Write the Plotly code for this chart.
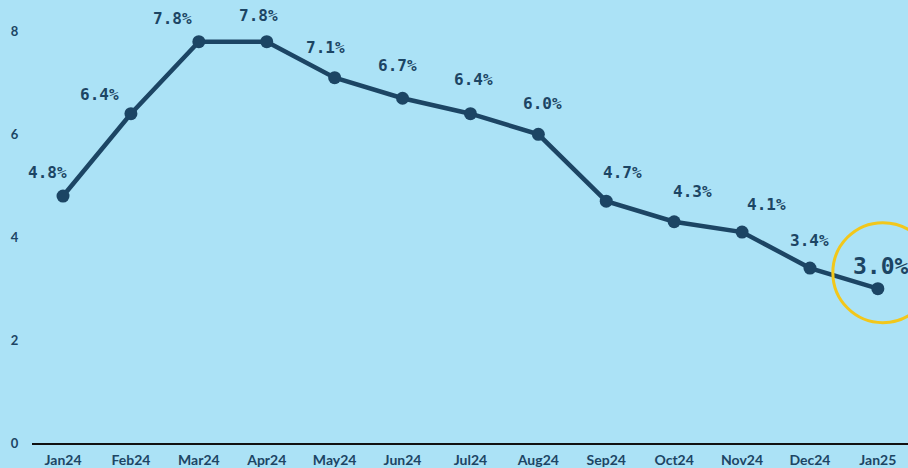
import plotly.graph_objects as go

months = ["Jan24", "Feb24", "Mar24", "Apr24", "May24", "Jun24", "Jul24",
          "Aug24", "Sep24", "Oct24", "Nov24", "Dec24", "Jan25"]
rates = [4.8, 6.4, 7.8, 7.8, 7.1, 6.7, 6.4, 6.0, 4.7, 4.3, 4.1, 3.4, 3.0]
y_ticks = [0, 2, 4, 6, 8]

# label offsets in pixels (styling only)
label_dx = [-16, -31, -26, -8, -9, -5, 3, 4, 16, 18, 24, 0, 3]
label_dy = [24, 19, 23, 26, 30, 33, 34, 31, 29, 30, 28, 28, 23]

NAVY = "#1C4564"
BG = "#ABE2F6"

fig = go.Figure()
fig.add_trace(go.Scatter(
    x=list(range(len(months))), y=rates, mode="lines+markers",
    line=dict(color=NAVY, width=4.5),
    marker=dict(color=NAVY, size=13),
    hoverinfo="skip", showlegend=False,
))

for i, (m, v) in enumerate(zip(months, rates)):
    last = i == len(months) - 1
    fig.add_annotation(
        x=i, y=v, text=f"{v:.1f}%", showarrow=False,
        xshift=label_dx[i], yshift=label_dy[i],
        font=dict(family="DejaVu Sans Mono", size=23 if last else 16,
                  color=NAVY, weight="bold"),
    )

# highlight circle around last point
fig.add_shape(
    type="circle", xref="x", yref="y",
    xsizemode="pixel", ysizemode="pixel",
    xanchor=len(months) - 1, yanchor=rates[-1],
    x0=-45, x1=55, y0=-34, y1=66,
    line=dict(color="#F2C71B", width=3),
)

fig.update_layout(
    width=908, height=468, autosize=False,
    paper_bgcolor=BG, plot_bgcolor=BG,
    margin=dict(l=32, r=0, t=0, b=24.5),
    showlegend=False,
    font=dict(family="Lato", color=NAVY, size=14, weight="bold"),
)
fig.update_xaxes(
    range=[-0.457, 12.444],
    tickmode="array", tickvals=list(range(len(months))), ticktext=months,
    showgrid=False, zeroline=False,
    showline=True, linecolor="#111111", linewidth=2,
    ticks="outside", ticklen=3, tickcolor="rgba(0,0,0,0)",
    tickfont=dict(family="Lato", size=14, color=NAVY, weight="bold"),
)
fig.update_yaxes(
    range=[0, 8.61],
    tickmode="array", tickvals=y_ticks, ticktext=[str(t) for t in y_ticks],
    showgrid=False, zeroline=False, showline=False,
    ticks="outside", ticklen=10, tickcolor="rgba(0,0,0,0)",
    tickfont=dict(family="Lato", size=13, color=NAVY, weight="bold"),
)

fig.write_html(
    "out.html",
    config={"displayModeBar": False},
    post_script="document.body.style.margin='0';document.body.style.overflow='hidden';",
)
